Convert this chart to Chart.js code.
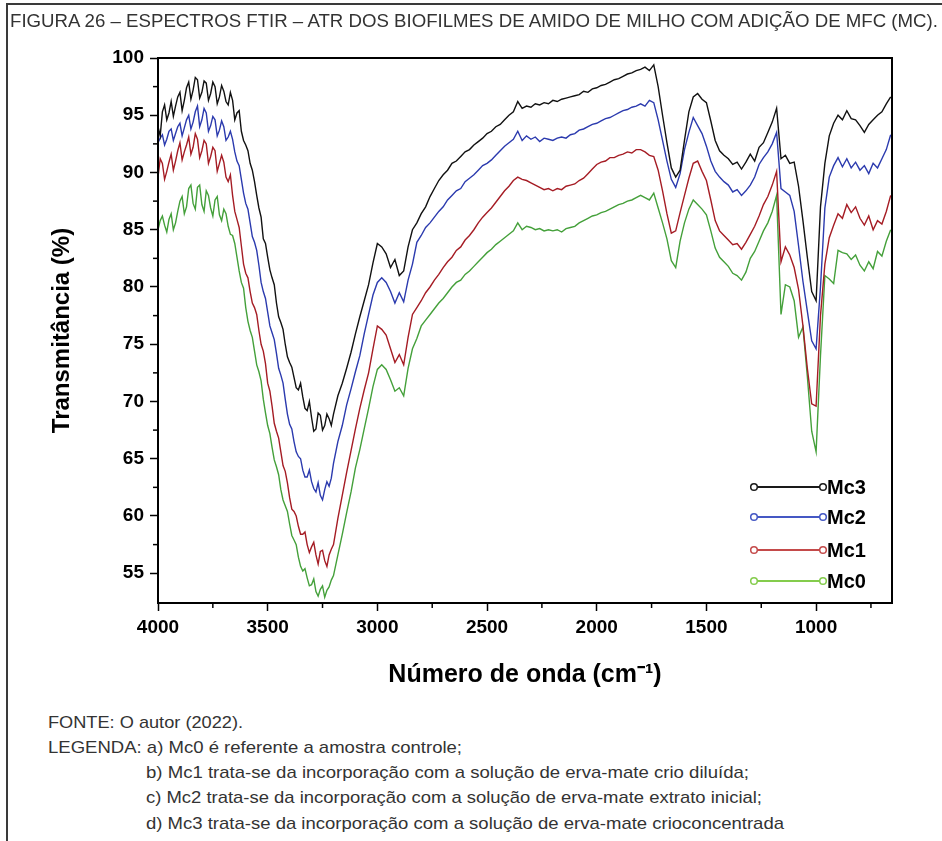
<!DOCTYPE html>
<html><head><meta charset="utf-8">
<script src="https://cdn.jsdelivr.net/npm/chart.js@4.4.1/dist/chart.umd.min.js"></script>
<style>
html,body{margin:0;padding:0;background:#fff;}
#page{position:relative;width:942px;height:841px;overflow:hidden;background:#fff;font-family:"Liberation Sans",Arial,sans-serif;}
#frameTop{position:absolute;left:6px;top:3px;width:936px;height:2px;background:#3a3a3a;}
#frameLeft{position:absolute;left:6px;top:3px;width:2px;height:838px;background:#3a3a3a;}
canvas{position:absolute;left:0;top:0;}
.fit{position:absolute;white-space:nowrap;color:#333;font-size:17px;line-height:1;transform-origin:0 0;display:inline-block;}
</style></head>
<body><div id="page">
<canvas id="c" width="942" height="700"></canvas>
<div id="frameTop"></div><div id="frameLeft"></div>
<div class="fit" data-w="928" style="left:10px;top:13px;font-size:17.5px">FIGURA 26 – ESPECTROS FTIR – ATR DOS BIOFILMES DE AMIDO DE MILHO COM ADIÇÃO DE MFC (MC).</div>
<div class="fit" data-w="195" style="left:48px;top:714px;">FONTE: O autor (2022).</div>
<div class="fit" data-w="414" style="left:48px;top:739px;">LEGENDA: a) Mc0 é referente a amostra controle;</div>
<div class="fit" data-w="603" style="left:146px;top:764px;">b) Mc1 trata-se da incorporação com a solução de erva-mate crio diluída;</div>
<div class="fit" data-w="616" style="left:146px;top:789px;">c) Mc2 trata-se da incorporação com a solução de erva-mate extrato inicial;</div>
<div class="fit" data-w="638" style="left:146px;top:815px;">d) Mc3 trata-se da incorporação com a solução de erva-mate crioconcentrada</div>
</div>
<script>
// ---------- DATA ----------
const wavenumbers = [
 4000,3990,3980,3970,3960,3950,3940,3930,3920,3910,
 3900,3890,3880,3870,3860,3850,3840,3830,3820,3810,
 3800,3790,3780,3770,3760,3750,3740,3730,3720,3710,
 3700,3690,3680,3670,3660,3650,3640,3630,3620,3610,
 3600,3590,3580,3570,3560,3550,3540,3530,3520,3510,
 3500,3490,3480,3470,3460,3450,3440,3430,3420,3410,
 3400,3390,3380,3370,3360,3350,3340,3330,3320,3310,
 3300,3290,3280,3270,3260,3250,3240,3230,3220,3210,
 3200,3180,3160,3140,3120,3100,3080,3060,3040,3020,
 3000,2980,2960,2940,2920,2900,2880,2860,2840,2820,
 2800,2780,2760,2740,2720,2700,2680,2660,2640,2620,
 2600,2580,2560,2540,2520,2500,2480,2460,2440,2420,
 2400,2380,2360,2340,2320,2300,2280,2260,2240,2220,
 2200,2180,2160,2140,2120,2100,2080,2060,2040,2020,
 2000,1980,1960,1940,1920,1900,1880,1860,1840,1820,
 1800,1780,1760,1740,1720,1700,1680,1660,1640,1620,
 1600,1580,1560,1540,1520,1500,1480,1460,1440,1420,
 1400,1380,1360,1340,1320,1300,1280,1260,1240,1220,
 1200,1180,1160,1140,1120,1100,1080,1060,1040,1020,
 1000,980,960,940,920,900,880,860,840,820,
 800,780,760,740,720,700,680,660
];
const mc3 = [
 94.0,93.2,95.3,95.9,94.6,95.2,96.2,94.9,95.8,96.6,
 97.0,95.4,96.3,97.4,97.9,96.4,97.2,98.3,98.1,96.5,
 97.0,98.0,97.8,96.3,96.9,97.9,97.5,96.0,96.6,97.6,
 97.1,96.2,95.9,97.0,96.3,94.6,95.2,95.4,93.6,92.8,
 92.4,91.9,90.8,90.2,89.2,88.0,86.9,86.1,84.2,83.8,
 82.6,81.5,80.8,80.2,78.6,77.4,76.9,76.3,75.0,73.9,
 73.4,73.0,72.1,71.2,71.0,71.6,70.4,69.4,69.2,70.0,
 68.6,67.4,67.6,69.0,68.8,67.5,67.9,68.9,68.5,67.9,
 68.9,70.5,71.6,72.9,74.3,75.9,77.4,78.8,80.2,82.1,
 83.8,83.5,82.9,81.7,82.4,81.0,81.4,83.5,85.0,85.6,
 86.4,87.0,87.9,88.6,89.3,89.8,90.2,90.8,91.0,91.4,
 91.8,92.0,92.4,92.7,93.0,93.4,93.6,94.0,94.2,94.6,
 95.0,95.3,96.2,95.6,95.8,95.7,96.0,95.9,96.1,96.0,
 96.3,96.2,96.4,96.5,96.6,96.7,96.8,97.1,97.0,97.3,
 97.4,97.6,97.7,97.9,98.1,98.2,98.4,98.6,98.7,98.9,
 99.0,99.2,98.9,99.4,97.5,95.0,92.6,90.4,89.6,90.2,
 92.8,95.3,96.6,96.9,96.4,96.1,94.5,92.8,91.9,91.5,
 91.2,90.7,90.9,90.3,90.9,91.6,91.0,92.2,92.6,93.5,
 94.4,95.6,91.2,91.5,90.8,90.9,88.8,85.8,82.6,79.6,
 78.8,87.0,90.8,93.2,94.3,95.0,94.6,95.4,94.7,94.6,
 94.1,93.5,94.2,94.6,95.0,95.3,96.0,96.6
];
const mc2 = [
 92.6,93.0,93.3,92.4,92.9,93.6,93.8,92.8,93.4,94.0,
 94.3,93.2,93.9,94.6,95.0,93.8,94.4,95.3,95.8,94.0,
 94.6,95.6,95.2,93.6,94.1,94.9,94.6,93.2,93.7,94.5,
 94.0,92.8,93.1,93.6,92.9,91.8,91.0,90.6,89.4,88.2,
 87.3,86.8,85.6,84.4,83.9,83.2,81.9,80.4,79.6,79.0,
 77.8,76.6,76.0,75.4,74.2,72.9,72.3,71.6,70.2,68.9,
 68.0,67.6,66.5,65.6,65.2,65.0,64.0,63.4,63.4,64.0,
 63.0,62.4,62.1,62.9,61.8,61.4,62.3,63.0,62.6,63.3,
 64.6,66.5,67.9,69.7,71.1,72.6,74.0,75.9,77.6,79.3,
 80.4,80.8,80.4,79.6,78.6,79.5,78.7,80.6,82.0,83.9,
 84.5,85.2,85.6,86.1,86.6,87.0,87.6,88.0,88.4,88.6,
 89.2,89.5,89.8,90.2,90.6,90.8,91.1,91.5,91.9,92.3,
 92.6,92.9,93.6,92.8,93.2,92.9,93.1,92.7,93.0,92.9,
 92.8,93.0,93.1,93.0,93.3,93.4,93.7,93.8,94.0,94.2,
 94.3,94.5,94.7,94.8,95.0,95.2,95.4,95.5,95.7,95.8,
 96.0,95.8,96.3,96.1,94.6,92.8,91.0,89.4,88.7,89.9,
 92.0,93.5,94.8,94.1,93.4,92.3,91.0,90.1,89.6,89.2,
 88.9,88.3,88.5,88.0,88.4,88.9,89.6,90.7,91.3,91.8,
 92.5,93.5,88.6,88.3,88.0,86.6,83.6,80.5,77.9,75.3,
 74.6,80.0,86.9,89.6,90.6,91.3,90.5,91.2,90.4,90.9,
 90.2,90.6,89.9,90.8,90.4,91.2,92.0,93.3
];
const mc1 = [
 89.6,91.2,90.8,89.4,90.1,90.9,91.6,90.2,91.0,91.9,
 92.6,91.1,91.8,92.4,93.1,91.6,92.2,93.4,92.9,91.3,
 91.9,92.8,92.5,90.8,91.4,92.2,91.9,90.1,90.8,91.5,
 90.9,89.6,89.2,89.8,88.0,86.6,85.9,85.2,83.6,82.0,
 81.2,80.8,79.6,78.6,78.2,77.6,76.2,75.0,74.4,73.3,
 71.6,70.9,69.6,68.1,67.4,66.8,65.6,64.4,63.9,62.9,
 61.6,60.6,60.4,60.0,59.1,58.4,58.4,58.6,57.5,56.8,
 57.3,57.7,56.6,55.8,56.9,57.0,56.1,55.6,56.6,57.1,
 57.5,59.8,61.8,63.8,65.7,67.6,69.4,71.0,72.5,74.6,
 76.6,76.3,75.8,74.6,73.4,74.1,73.2,75.6,77.6,78.2,
 78.8,79.5,80.0,80.6,81.1,81.7,82.2,82.6,83.2,83.5,
 84.1,84.5,85.0,85.6,86.1,86.5,86.9,87.4,87.9,88.4,
 88.8,89.3,89.6,89.4,89.3,89.1,88.9,88.7,88.5,88.6,
 88.4,88.6,88.5,88.8,88.9,89.0,89.3,89.5,89.9,90.3,
 90.7,90.9,91.0,91.3,91.3,91.5,91.6,91.8,91.7,92.0,
 92.0,91.8,91.5,91.4,90.2,88.4,86.4,84.7,84.9,86.5,
 88.0,89.5,90.8,91.0,90.1,89.3,87.6,85.8,84.9,84.5,
 84.1,83.7,83.8,83.3,83.9,84.6,85.3,86.2,87.2,87.9,
 88.9,90.1,82.2,83.5,82.8,81.7,79.8,76.6,72.9,69.8,
 69.6,77.5,82.0,84.3,85.4,86.4,86.0,87.2,86.5,87.0,
 86.0,85.4,86.2,85.0,85.8,85.5,86.6,88.0
];
const mc0 = [
 85.0,85.8,86.2,85.4,84.8,85.9,86.4,85.0,85.6,86.6,
 87.5,87.9,86.4,87.0,88.6,88.9,87.3,86.8,88.7,88.9,
 87.2,86.6,88.4,88.0,86.9,86.2,87.6,87.9,86.3,85.8,
 86.8,86.4,85.3,84.6,84.5,83.8,82.6,81.4,80.4,79.9,
 78.2,77.0,76.2,75.6,74.4,73.2,72.6,71.8,70.2,69.0,
 67.9,67.2,66.0,64.9,64.3,63.6,62.3,61.4,60.9,60.4,
 59.3,58.3,57.9,57.5,56.4,55.6,55.2,55.4,54.6,53.9,
 54.0,54.5,53.4,53.0,53.6,53.9,52.9,53.5,53.8,54.4,
 54.8,56.6,58.4,60.3,62.1,64.2,65.8,67.6,69.4,71.3,
 72.8,73.2,72.8,71.9,70.9,71.2,70.5,72.9,74.6,75.5,
 76.6,77.1,77.6,78.1,78.6,79.0,79.5,80.0,80.4,80.6,
 81.1,81.4,81.8,82.2,82.6,83.0,83.3,83.7,84.0,84.3,
 84.6,84.9,85.6,85.0,85.3,85.2,85.0,85.1,84.9,85.0,
 84.9,85.0,84.8,85.1,85.2,85.3,85.6,85.8,86.0,86.2,
 86.3,86.5,86.6,86.8,87.0,87.2,87.3,87.5,87.6,87.8,
 88.0,87.8,87.6,88.2,86.9,85.6,84.2,82.3,81.7,84.0,
 85.6,86.8,87.6,87.2,86.8,86.3,84.9,83.4,82.6,82.2,
 81.8,81.2,81.0,80.6,81.3,82.5,83.1,84.0,84.9,85.6,
 86.6,88.0,77.6,80.2,80.0,78.8,75.6,76.5,72.2,67.4,
 65.6,74.0,81.0,80.7,80.3,83.2,83.0,82.9,82.4,82.8,
 81.9,81.4,82.2,81.6,83.1,82.7,84.0,85.0
];
const seriesLabels = ['Mc3','Mc2','Mc1','Mc0'];
const xMajorTicks = [4000,3500,3000,2500,2000,1500,1000];
const xMinorTicks = [3750,3250,2750,2250,1750,1250,750];
const yMajorTicks = [55,60,65,70,75,80,85,90,95,100];
const yMinorTicks = [57.5,62.5,67.5,72.5,77.5,82.5,87.5,92.5,97.5];

// ---------- STYLE ----------
const lineColors = ['#111111','#2b3aae','#a51c24','#44a03a'];
const legendColors = ['#1a1a1a','#4558c4','#c44a4a','#84cc4c'];
const FONT = '"Liberation Sans", Arial, sans-serif';
Chart.defaults.font.family = FONT;
Chart.defaults.color = '#000';

const values = [mc3, mc2, mc1, mc0];
const datasets = values.map((arr, i) => ({
  label: seriesLabels[i],
  data: wavenumbers.map((w, k) => ({x: w, y: arr[k]})),
  borderColor: lineColors[i],
  borderWidth: 1.4,
  pointRadius: 0,
  fill: false,
  tension: 0
}));

const decor = {
  id: 'decor',
  afterDraw(chart) {
    const {ctx, chartArea: a, scales: {x, y}} = chart;
    ctx.save();
    ctx.strokeStyle = '#000';
    ctx.lineWidth = 1.5;
    xMinorTicks.forEach(v => {
      const px = x.getPixelForValue(v);
      ctx.beginPath(); ctx.moveTo(px, a.bottom); ctx.lineTo(px, a.bottom + 5); ctx.stroke();
    });
    yMinorTicks.forEach(v => {
      const py = y.getPixelForValue(v);
      ctx.beginPath(); ctx.moveTo(a.left, py); ctx.lineTo(a.left - 5, py); ctx.stroke();
    });
    ctx.lineWidth = 2;
    ctx.strokeRect(a.left, a.top, a.right - a.left, a.bottom - a.top);
    // legend
    const rowsY = [487, 517, 550, 581];
    const x1 = 754, x2 = 823;
    seriesLabels.forEach((lab, i) => {
      const yy = rowsY[i];
      ctx.strokeStyle = legendColors[i];
      ctx.lineWidth = 2;
      ctx.beginPath(); ctx.moveTo(x1, yy); ctx.lineTo(x2, yy); ctx.stroke();
      [x1, x2].forEach(cx => {
        ctx.beginPath(); ctx.arc(cx, yy, 3.3, 0, Math.PI * 2);
        ctx.fillStyle = '#fff'; ctx.fill();
        ctx.lineWidth = 1.5; ctx.stroke();
      });
      ctx.fillStyle = '#000';
      ctx.font = 'bold 20px ' + FONT;
      ctx.textBaseline = 'middle';
      ctx.textAlign = 'left';
      ctx.fillText(lab, x2 + 4, yy + 1);
    });
    ctx.restore();
  }
};

new Chart(document.getElementById('c'), {
  type: 'line',
  data: {datasets},
  options: {
    responsive: false,
    devicePixelRatio: 1,
    animation: false,
    layout: {padding: {top: 58, right: 50, left: 0, bottom: 0}},
    plugins: {legend: {display: false}, tooltip: {enabled: false}},
    scales: {
      x: {
        type: 'linear', reverse: true, min: 654, max: 4000,
        afterBuildTicks: s => { s.ticks = xMajorTicks.map(v => ({value: v})); },
        afterFit: s => { s.height = 97; },
        ticks: {font: {size: 19, weight: 'bold'}, color: '#000', padding: 5, maxRotation: 0, autoSkip: false,
                callback: v => String(v)},
        grid: {drawOnChartArea: false, drawTicks: true, tickLength: 8, tickColor: '#000', tickWidth: 1.5},
        border: {display: false},
        title: {display: true, text: 'Número de onda (cm⁻¹)', font: {size: 25, weight: 'bold'}, color: '#000',
                padding: {top: 0, bottom: 10}}
      },
      y: {
        type: 'linear', min: 52.4, max: 100,
        afterBuildTicks: s => { s.ticks = yMajorTicks.map(v => ({value: v})); },
        afterFit: s => { s.width = 158; },
        ticks: {font: {size: 19, weight: 'bold'}, color: '#000', padding: 6, callback: v => String(v)},
        grid: {drawOnChartArea: false, drawTicks: true, tickLength: 8, tickColor: '#000', tickWidth: 1.5},
        border: {display: false},
        title: {display: true, text: 'Transmitância (%)', font: {size: 24, weight: 'bold'}, color: '#000',
                padding: {top: 48, bottom: 0}}
      }
    }
  },
  plugins: [decor]
});

// fit caption/title widths
document.querySelectorAll('.fit').forEach(el => {
  const w = el.getBoundingClientRect().width;
  const target = parseFloat(el.dataset.w);
  if (w > 0) el.style.transform = 'scaleX(' + (target / w).toFixed(4) + ')';
});
</script>
</body></html>
